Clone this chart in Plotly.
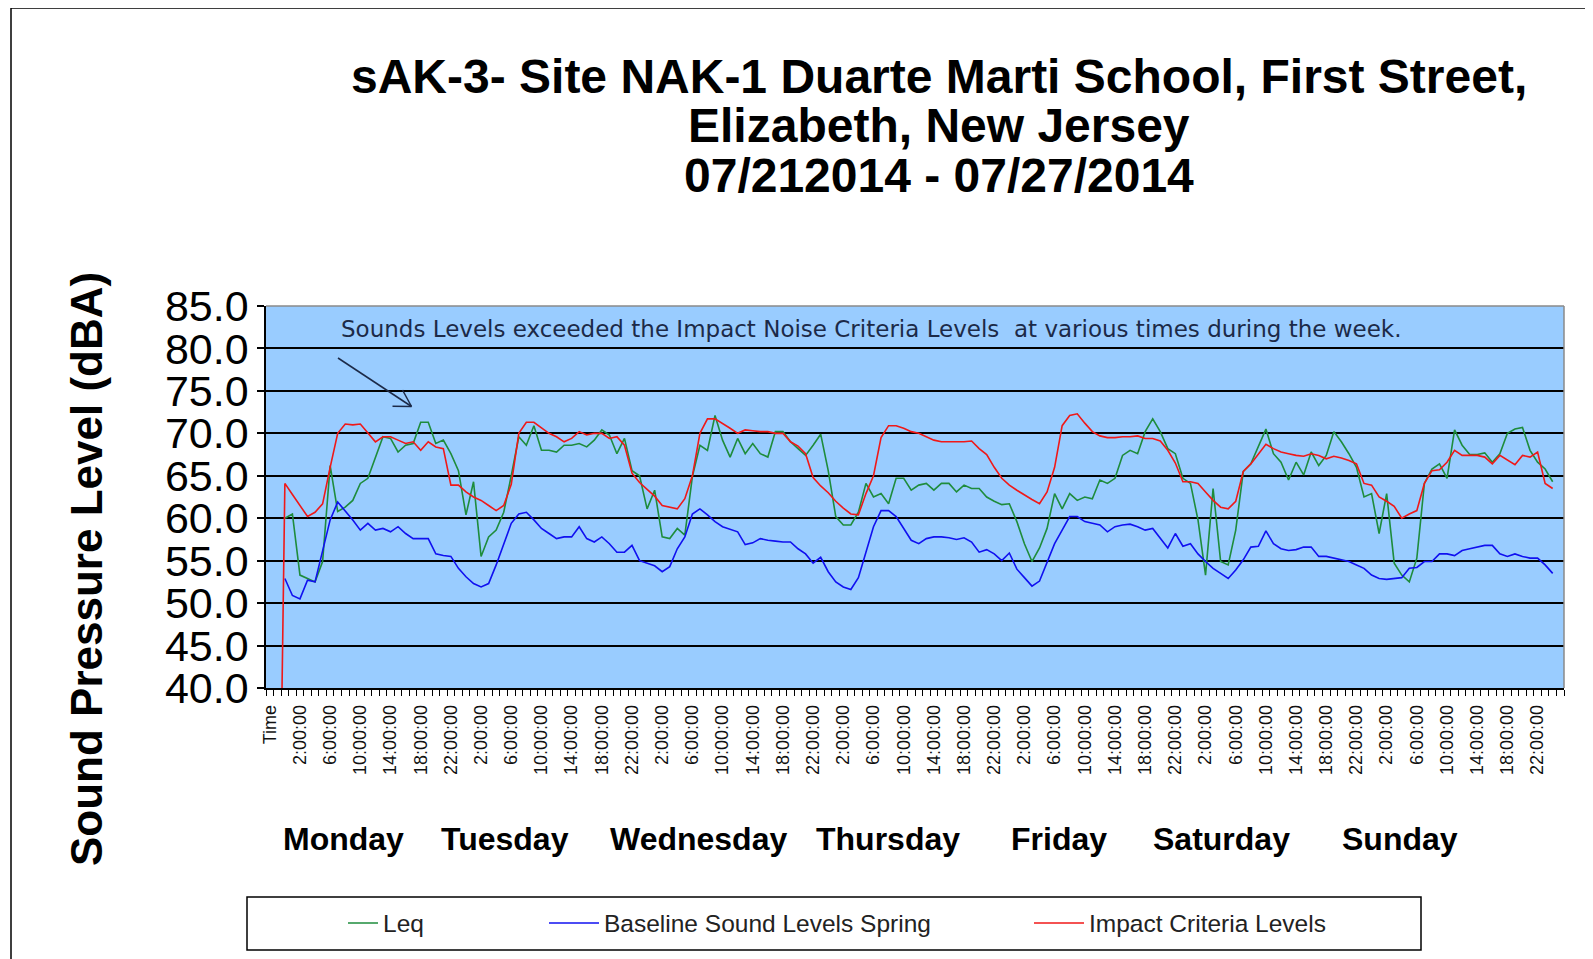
import plotly.graph_objects as go

# ---------------- data (hourly categories; index 0 = "Time") ----------------
day_hour_labels = ["2:00:00", "6:00:00", "10:00:00", "14:00:00", "18:00:00", "22:00:00"]
tick_labels = ["Time"] + day_hour_labels * 7
tick_positions = list(range(0, 169, 4))

day_names = ["Monday", "Tuesday", "Wednesday", "Thursday", "Friday", "Saturday", "Sunday"]

leq_index = list(range(2, 171))
leq = [
    60.0, 60.5, 53.3, 52.9, 52.5, 54.9, 66.2, 60.8, 61.3, 62.1,
    64.1, 64.7, 67.2, 69.6, 69.4, 67.8, 68.6, 68.8, 71.3, 71.3,
    68.8, 69.2, 67.6, 65.6, 60.4, 64.3, 55.5, 57.8, 58.6, 60.7,
    65.0, 69.6, 68.6, 70.9, 68.0, 68.0, 67.8, 68.6, 68.6, 68.8,
    68.4, 69.2, 70.4, 69.8, 67.6, 69.4, 65.6, 65.0, 61.1, 63.3,
    57.8, 57.6, 58.8, 58.0, 64.9, 68.6, 68.0, 72.1, 69.2, 67.2,
    69.4, 67.6, 68.8, 67.6, 67.2, 70.2, 70.2, 69.0, 68.2, 67.4,
    68.6, 69.9, 65.6, 60.2, 59.2, 59.2, 60.7, 64.1, 62.5, 62.9,
    61.7, 64.7, 64.7, 63.3, 63.9, 64.1, 63.3, 64.1, 64.1, 63.1,
    63.9, 63.5, 63.5, 62.5, 62.0, 61.6, 61.7, 59.6, 57.0, 54.9,
    56.5, 58.8, 62.9, 61.1, 62.9, 62.1, 62.5, 62.3, 64.5, 64.1,
    64.7, 67.4, 68.0, 67.6, 70.2, 71.7, 70.2, 68.2, 67.6, 64.7,
    64.1, 59.8, 53.3, 63.5, 54.9, 54.5, 58.6, 65.5, 66.4, 68.4,
    70.5, 67.6, 66.6, 64.5, 66.6, 65.1, 67.8, 66.2, 67.4, 70.2,
    69.0, 67.6, 66.0, 62.5, 62.9, 58.2, 62.9, 54.7, 53.3, 52.5,
    55.3, 64.1, 65.8, 66.4, 64.7, 70.4, 68.6, 67.5, 67.5, 67.7,
    66.6, 67.6, 70.0, 70.5, 70.7, 68.0, 66.6, 65.8, 64.3,
]

baseline_index = list(range(2, 171))
baseline = [
    52.9, 50.9, 50.5, 52.7, 52.5, 56.2, 59.8, 61.9, 60.9, 59.8,
    58.6, 59.4, 58.6, 58.8, 58.4, 59.0, 58.2, 57.6, 57.6, 57.6,
    55.8, 55.6, 55.5, 54.1, 53.1, 52.3, 51.9, 52.3, 54.5, 57.0,
    59.4, 60.5, 60.7, 59.8, 58.8, 58.2, 57.6, 57.8, 57.8, 59.0,
    57.6, 57.2, 57.8, 57.0, 56.0, 56.0, 56.8, 55.0, 54.7, 54.4,
    53.7, 54.3, 56.4, 57.8, 60.5, 61.1, 60.4, 59.6, 59.0, 58.7,
    58.4, 56.9, 57.1, 57.6, 57.4, 57.3, 57.2, 57.2, 56.4, 55.8,
    54.7, 55.4, 53.7, 52.5, 51.9, 51.6, 53.0, 56.0, 59.0, 60.9,
    60.9, 60.2, 58.8, 57.4, 57.0, 57.6, 57.8, 57.8, 57.7, 57.5,
    57.7, 57.2, 56.0, 56.3, 55.8, 55.0, 55.9, 54.0, 53.0, 52.0,
    52.6, 54.7, 57.0, 58.6, 60.2, 60.2, 59.6, 59.4, 59.2, 58.4,
    59.0, 59.2, 59.3, 59.0, 58.6, 58.8, 57.6, 56.5, 58.2, 56.7,
    57.0, 55.8, 54.9, 54.1, 53.5, 52.9, 53.9, 55.1, 56.6, 56.7,
    58.5, 57.0, 56.4, 56.2, 56.3, 56.6, 56.6, 55.5, 55.5, 55.3,
    55.1, 54.9, 54.5, 54.1, 53.3, 52.9, 52.8, 52.9, 53.0, 54.1,
    54.2, 54.9, 54.9, 55.8, 55.8, 55.6, 56.2, 56.4, 56.6, 56.8,
    56.8, 55.8, 55.5, 55.8, 55.5, 55.3, 55.3, 54.5, 53.5,
]

impact_index = list(range(1, 171))
impact = [
    0.0,
    64.1, 62.8, 61.5, 60.2, 60.7, 61.7, 66.0, 70.0, 71.1, 71.0,
    71.1, 70.0, 69.0, 69.6, 69.6, 69.2, 68.8, 69.0, 68.0, 69.0,
    68.4, 68.2, 63.9, 63.9, 63.1, 62.5, 62.1, 61.5, 60.9, 61.5,
    64.0, 70.0, 71.3, 71.3, 70.7, 70.0, 69.6, 69.0, 69.4, 70.2,
    69.8, 70.0, 70.0, 69.4, 69.6, 68.6, 65.3, 64.2, 63.4, 62.6,
    61.5, 61.3, 61.1, 62.3, 65.0, 70.0, 71.7, 71.7, 71.2, 70.6,
    70.0, 70.4, 70.3, 70.2, 70.2, 70.0, 70.0, 69.0, 68.5, 67.6,
    64.8, 63.8, 63.0, 62.0, 61.2, 60.5, 60.4, 62.9, 65.0, 69.5,
    70.9, 70.9, 70.6, 70.2, 70.0, 69.6, 69.2, 69.0, 69.0, 69.0,
    69.0, 69.1, 68.2, 67.5, 66.0, 64.7, 63.9, 63.3, 62.7, 62.2,
    61.7, 63.1, 66.0, 70.9, 72.1, 72.3, 71.2, 70.2, 69.7, 69.5,
    69.5, 69.6, 69.6, 69.7, 69.4, 69.4, 69.1, 68.0, 66.5, 64.3,
    64.3, 64.1, 63.1, 62.1, 61.3, 61.1, 62.0, 65.5, 66.4, 67.6,
    68.7, 68.2, 67.8, 67.6, 67.4, 67.3, 67.6, 67.4, 67.0, 67.3,
    67.1, 66.8, 66.4, 64.1, 63.9, 62.5, 62.0, 61.4, 60.0, 60.5,
    60.9, 64.1, 65.6, 65.7, 66.6, 68.0, 67.4, 67.4, 67.4, 67.2,
    66.4, 67.4, 66.8, 66.3, 67.4, 67.2, 67.8, 64.1, 63.5,
]

y_ticks = [40, 45, 50, 55, 60, 65, 70, 75, 80, 85]

# ---------------- layout geometry (pixels, reference coordinates) ----------------
PAGE_OFF = 8                      # browser body margin
W, H = 1593 - PAGE_OFF, 959 - PAGE_OFF
PLOT_L, PLOT_R, PLOT_T, PLOT_B = 266, 1564, 306, 688   # in reference pixels
L = PLOT_L - PAGE_OFF
T = PLOT_T - PAGE_OFF
R = W - (PLOT_R - PAGE_OFF)
B = H - (PLOT_B - PAGE_OFF)
PW, PH = PLOT_R - PLOT_L, PLOT_B - PLOT_T


def px(x):
    return (x - PLOT_L) / PW


def py(y):
    return (PLOT_B - y) / PH


FONT = "Liberation Sans, Arial, sans-serif"

fig = go.Figure()
fig.add_trace(go.Scatter(x=leq_index, y=leq, mode="lines", name="Leq",
                         line=dict(color="#1e8c3c", width=1.6), legend="legend"))
fig.add_trace(go.Scatter(x=baseline_index, y=baseline, mode="lines",
                         name="Baseline Sound Levels Spring",
                         line=dict(color="#1010f0", width=1.6), legend="legend2"))
fig.add_trace(go.Scatter(x=impact_index, y=impact, mode="lines",
                         name="Impact Criteria Levels",
                         line=dict(color="#f01818", width=1.6), legend="legend3"))

annotations = []
title_lines = [
    ("sAK-3- Site NAK-1 Duarte Marti School, First Street,", 76),
    ("Elizabeth, New Jersey", 125),
    ("07/212014 - 07/27/2014", 176),
]
for txt, yy in title_lines:
    annotations.append(dict(text="<b>%s</b>" % txt, xref="paper", yref="paper",
                            x=px(939), y=py(yy), xanchor="center", yanchor="middle",
                            showarrow=False, font=dict(family=FONT, size=48, color="black")))
annotations.append(dict(text="<b>Sound Pressure Level (dBA)</b>", xref="paper", yref="paper",
                        x=px(86), y=py(569), xanchor="center", yanchor="middle",
                        textangle=-90, showarrow=False,
                        font=dict(family=FONT, size=44, color="black")))
day_centers = [343, 505, 698, 888, 1059, 1221, 1400]
for name, cx in zip(day_names, day_centers):
    annotations.append(dict(text="<b>%s</b>" % name, xref="paper", yref="paper",
                            x=px(cx), y=py(839), xanchor="center", yanchor="middle",
                            showarrow=False, font=dict(family=FONT, size=32, color="black")))
annotations.append(dict(text="Sounds Levels exceeded the Impact Noise Criteria Levels  at various times during the week.",
                        xref="paper", yref="paper", x=px(871), y=py(329),
                        xanchor="center", yanchor="middle", showarrow=False,
                        font=dict(family="DejaVu Sans, sans-serif", size=23, color="#1c2a48")))

shapes = []
shapes.append(dict(type="rect", xref="paper", yref="paper", x0=px(11), y0=py(985),
                   x1=px(1615), y1=py(8), line=dict(color="black", width=1.5),
                   fillcolor="rgba(0,0,0,0)", layer="below"))
shapes.append(dict(type="line", xref="paper", yref="paper", x0=0, x1=1, y0=1, y1=1,
                   line=dict(color="#8a8a8a", width=1.5), layer="above"))
shapes.append(dict(type="line", xref="paper", yref="paper", x0=1, x1=1, y0=0, y1=1,
                   line=dict(color="#8a8a8a", width=1.5), layer="above"))
arrow_col = "#1c2a48"
tip = (411.5, 406.5)
for a, b in [((338, 358), tip), ((392.5, 406.3), tip), ((402.5, 390), tip)]:
    shapes.append(dict(type="line", xref="paper", yref="paper",
                       x0=px(a[0]), y0=py(a[1]), x1=px(b[0]), y1=py(b[1]),
                       line=dict(color=arrow_col, width=1.5), layer="above"))
shapes.append(dict(type="rect", xref="paper", yref="paper", x0=px(247), y0=py(950),
                   x1=px(1421), y1=py(897), line=dict(color="black", width=1.5),
                   fillcolor="rgba(0,0,0,0)", layer="below"))

legend_common = dict(orientation="h", yanchor="middle", y=py(923), xanchor="left",
                     bgcolor="rgba(0,0,0,0)", borderwidth=0,
                     font=dict(family=FONT, size=24.5, color="#222222"))

fig.update_layout(
    width=W, height=H,
    margin=dict(l=L, r=R, t=T, b=B, autoexpand=False),
    paper_bgcolor="white",
    plot_bgcolor="#99CCFF",
    showlegend=True,
    legend=dict(x=px(343), itemwidth=30, **legend_common),
    legend2=dict(x=px(544), itemwidth=50, **legend_common),
    legend3=dict(x=px(1029), itemwidth=50, **legend_common),
    annotations=annotations,
    shapes=shapes,
    xaxis=dict(
        range=[-0.5, 171.5], tickmode="array", tickvals=tick_positions, ticktext=tick_labels,
        tickangle=-90, ticks="outside", ticklen=8, tickcolor="rgba(0,0,0,0)",
        tickfont=dict(family=FONT, size=18, color="#111111"),
        showgrid=False, zeroline=False, showline=True, linecolor="black", linewidth=1.5,
        minor=dict(tickmode="array", tickvals=[k + 0.5 for k in range(-1, 172)],
                   ticks="outside", ticklen=6, tickcolor="black", tickwidth=1, showgrid=False),
        automargin=False, fixedrange=True,
    ),
    yaxis=dict(
        range=[40, 85], tickmode="array", tickvals=y_ticks, tickformat=".1f",
        ticks="outside", ticklen=7, tickcolor="black", tickwidth=1.5,
        tickfont=dict(family=FONT, size=43, color="black"),
        showgrid=True, gridcolor="black", gridwidth=1.5, zeroline=False,
        showline=True, linecolor="black", linewidth=1.5, automargin=False,
    ),
)

fig.write_html("out.html")
